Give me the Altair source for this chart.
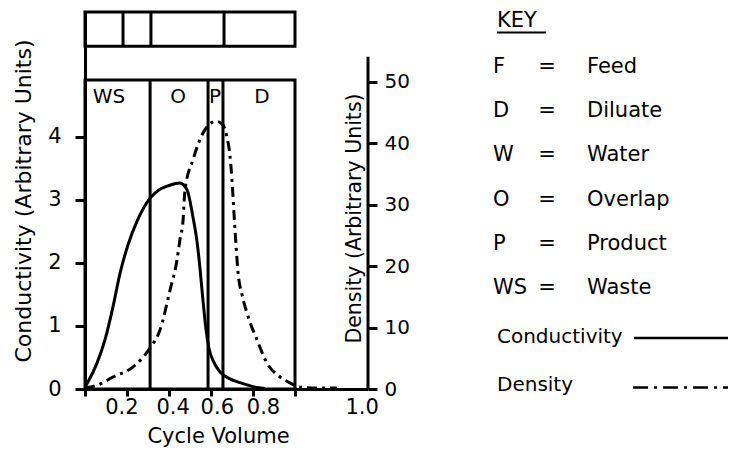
import altair as alt
import pandas as pd

FONT = "DejaVu Sans"

# ---- data ----
cv_cond = [0.0, 0.014, 0.057, 0.095, 0.133, 0.167, 0.205, 0.25, 0.31, 0.357, 0.40, 0.452,
           0.486, 0.514, 0.533, 0.548, 0.562, 0.576, 0.59, 0.61, 0.643, 0.69, 0.738, 0.81, 0.857]
conductivity = [0.03, 0.11, 0.41, 0.78, 1.30, 1.84, 2.29, 2.68, 3.03, 3.17, 3.23, 3.27,
                3.16, 2.73, 2.35, 1.90, 1.40, 0.95, 0.65, 0.45, 0.27, 0.16, 0.10, 0.03, 0.01]

cv_dens = [0.0, 0.071, 0.133, 0.229, 0.31, 0.357, 0.405, 0.438, 0.452, 0.467, 0.476, 0.514,
           0.562, 0.595, 0.624, 0.652, 0.676, 0.69, 0.70, 0.71, 0.719, 0.729, 0.748, 0.771,
           0.819, 0.867, 0.929, 0.976, 1.024, 1.119, 1.2]
density = [0.15, 0.8, 1.95, 3.6, 6.7, 9.6, 16.1, 21.0, 24.3, 27.5, 32.4, 37.3,
           41.7, 43.2, 43.6, 43.2, 41.0, 38.1, 34.0, 28.3, 23.5, 18.9, 15.3, 12.4,
           8.0, 4.2, 1.95, 1.0, 0.3, 0.15, 0.15]

region_labels = ["WS", "O", "P", "D"]
region_label_x = [0.114, 0.443, 0.619, 0.843]
region_bounds = [0.31, 0.586, 0.657]
top_dividers = [0.181, 0.314, 0.662]

x_tick_values = [0, 0.2, 0.4, 0.6, 0.8, 1.0]
x_tick_labels = ["0.2", "0.4", "0.6", "0.8", "1.0"]
x_tick_label_pos = [0.176, 0.42, 0.63, 0.85, 1.32]
cond_ticks = [0, 1, 2, 3, 4]
dens_ticks = [0, 10, 20, 30, 40, 50]

key_codes = ["F", "D", "W", "O", "P", "WS"]
key_names = ["Feed", "Diluate", "Water", "Overlap", "Product", "Waste"]
key_rows = [1, 2, 3, 4, 5, 6]
key_series = ["Conductivity", "Density"]
key_series_rows = [7.1, 8.2]

# ---- layout constants ----
X_MAX = 1.3476
COND_MAX = 5.984
DENS_MAX = 61.4
BOX_TOP = 4.905          # top of lower (region) box, conductivity units
TOPBOX_BOTTOM = 5.44     # bottom of upper box
RIGHT_AXIS_TOP = 54.1    # density units

xs = alt.Scale(domain=[0, X_MAX], nice=False, zero=False)
ycs = alt.Scale(domain=[0, COND_MAX], nice=False)
yds = alt.Scale(domain=[0, DENS_MAX], nice=False)

LW = 3
FS = 21

cond_df = pd.DataFrame({"cv": cv_cond, "c": conductivity})
dens_df = pd.DataFrame({"cv": cv_dens, "d": density})

# conductivity line, carrying the x and left y axis
cond_line = alt.Chart(cond_df).mark_line(
    color="black", strokeWidth=LW, interpolate="monotone"
).encode(
    x=alt.X("cv:Q", scale=xs, axis=alt.Axis(
        values=x_tick_values, labels=False, tickSize=7, title="Cycle Volume",
        titleFontSize=21, titleFont=FONT, titleFontWeight="normal", titleColor="black",
        titlePadding=28, titleX=133)),
    y=alt.Y("c:Q", scale=ycs, axis=alt.Axis(
        values=cond_ticks, tickSize=10, labelPadding=14, labelFontSize=FS,
        title="Conductivity (Arbitrary Units)", titleFontSize=22, titleFont=FONT,
        titleFontWeight="normal", titleColor="black", titlePadding=12)),
)

frame_df = pd.DataFrame({"x0": [0.0, 0.0], "x1": [1.0, 1.0],
                         "y0": [TOPBOX_BOTTOM, 0.0], "y1": [COND_MAX, BOX_TOP]})
frames = alt.Chart(frame_df).mark_rect(
    fillOpacity=0, stroke="black", strokeWidth=LW
).encode(
    x=alt.X("x0:Q", scale=xs, axis=None), x2="x1:Q",
    y=alt.Y("y0:Q", scale=ycs, axis=None), y2="y1:Q",
)

div_df = pd.DataFrame({"x": top_dividers, "y0": TOPBOX_BOTTOM, "y1": COND_MAX})
dividers = alt.Chart(div_df).mark_rule(color="black", strokeWidth=LW).encode(
    x=alt.X("x:Q", scale=xs, axis=None),
    y=alt.Y("y0:Q", scale=ycs, axis=None), y2="y1:Q",
)

bnd_df = pd.DataFrame({"x": region_bounds, "y0": 0.0, "y1": BOX_TOP})
bounds = alt.Chart(bnd_df).mark_rule(color="black", strokeWidth=LW).encode(
    x=alt.X("x:Q", scale=xs, axis=None),
    y=alt.Y("y0:Q", scale=ycs, axis=None), y2="y1:Q",
)

lab_df = pd.DataFrame({"x": region_label_x, "y": 4.63, "t": region_labels})
reg_labels = alt.Chart(lab_df).mark_text(
    font=FONT, fontSize=20, color="black", baseline="middle", align="center"
).encode(
    x=alt.X("x:Q", scale=xs, axis=None),
    y=alt.Y("y:Q", scale=ycs, axis=None), text="t:N",
)

xl_df = pd.DataFrame({"x": x_tick_label_pos, "y": -0.30, "t": x_tick_labels})
x_labels = alt.Chart(xl_df).mark_text(
    font=FONT, fontSize=FS, color="black", baseline="middle", align="center"
).encode(
    x=alt.X("x:Q", scale=xs, axis=None),
    y=alt.Y("y:Q", scale=ycs, axis=None), text="t:N",
)

dens_line = alt.Chart(dens_df).mark_line(
    color="black", strokeWidth=LW, strokeDash=[10, 5, 3, 5], interpolate="monotone"
).encode(
    x=alt.X("cv:Q", scale=xs, axis=None),
    y=alt.Y("d:Q", scale=yds, axis=alt.Axis(
        orient="right", values=dens_ticks, domain=False, tickSize=9, labelPadding=7,
        labelFontSize=20, title="Density (Arbitrary Units)", titleFontSize=20.5,
        titleFont=FONT, titleFontWeight="normal", titleColor="black",
        titleAngle=270, titleX=-8, titleY=206, titleAlign="center",
        titleBaseline="alphabetic")),
)

raxis_df = pd.DataFrame({"x": [X_MAX], "y0": [0.0], "y1": [RIGHT_AXIS_TOP]})
raxis = alt.Chart(raxis_df).mark_rule(color="black", strokeWidth=LW).encode(
    x=alt.X("x:Q", scale=xs, axis=None),
    y=alt.Y("y0:Q", scale=yds, axis=None), y2="y1:Q",
)

# ---- key ----
kxs = alt.Scale(domain=[0, 1], range=[408, 643], nice=False, zero=False)
kys = alt.Scale(domain=[0, 8.285], range=[10.8, 377], nice=False, zero=False)

key_rows_df = pd.DataFrame({"code": key_codes, "name": key_names, "row": key_rows, "eq": "="})
kcode = alt.Chart(key_rows_df).mark_text(
    font=FONT, fontSize=FS, color="black", align="left", baseline="middle"
).encode(x=alt.X("k0:Q", scale=kxs, axis=None), y=alt.Y("row:Q", scale=kys, axis=None),
         text="code:N").transform_calculate(k0="0")
keq = alt.Chart(key_rows_df).mark_text(
    font=FONT, fontSize=FS, color="black", align="center", baseline="middle"
).encode(x=alt.X("k1:Q", scale=kxs, axis=None), y=alt.Y("row:Q", scale=kys, axis=None),
         text="eq:N").transform_calculate(k1="0.23")
kname = alt.Chart(key_rows_df).mark_text(
    font=FONT, fontSize=FS, color="black", align="left", baseline="middle"
).encode(x=alt.X("k2:Q", scale=kxs, axis=None), y=alt.Y("row:Q", scale=kys, axis=None),
         text="name:N").transform_calculate(k2="0.40")

ktitle_df = pd.DataFrame({"t": ["KEY"], "x": [0.017], "y": [-0.04]})
ktitle = alt.Chart(ktitle_df).mark_text(
    font=FONT, fontSize=FS, color="black", align="left", baseline="middle"
).encode(x=alt.X("x:Q", scale=kxs, axis=None), y=alt.Y("y:Q", scale=kys, axis=None), text="t:N")

kul_df = pd.DataFrame({"x0": [0.017], "x1": [0.226], "y": [0.22]})
kul = alt.Chart(kul_df).mark_rule(color="black", strokeWidth=2).encode(
    x=alt.X("x0:Q", scale=kxs, axis=None), x2="x1:Q",
    y=alt.Y("y:Q", scale=kys, axis=None))

kser_df = pd.DataFrame({"t": key_series, "row": key_series_rows})
kser = alt.Chart(kser_df).mark_text(
    font=FONT, fontSize=20, color="black", align="left", baseline="middle"
).encode(x=alt.X("k:Q", scale=kxs, axis=None), y=alt.Y("row:Q", scale=kys, axis=None),
         text="t:N").transform_calculate(k="0.017")

kline_c = alt.Chart(pd.DataFrame({"x0": [0.60], "x1": [1.0], "y": [7.13]})).mark_rule(
    color="black", strokeWidth=2.5).encode(
    x=alt.X("x0:Q", scale=kxs, axis=None), x2="x1:Q", y=alt.Y("y:Q", scale=kys, axis=None))
kline_d = alt.Chart(pd.DataFrame({"x0": [0.596], "x1": [1.0], "y": [8.25]})).mark_rule(
    color="black", strokeWidth=2.5, strokeDash=[15, 6, 3, 6]).encode(
    x=alt.X("x0:Q", scale=kxs, axis=None), x2="x1:Q", y=alt.Y("y:Q", scale=kys, axis=None))

chart = alt.layer(
    frames, dividers, bounds, reg_labels, x_labels, cond_line, raxis, dens_line,
    ktitle, kul, kcode, keq, kname, kser, kline_c, kline_d,
).resolve_scale(x="independent", y="independent").resolve_axis(
    x="independent", y="independent"
).properties(
    width=283, height=377,
    autosize=alt.AutoSizeParams(type="none"),
    padding={"left": 77, "top": 4, "right": 360, "bottom": 60},
    background="white",
).configure_view(stroke=None).configure_axis(
    domainColor="black", domainWidth=LW, tickColor="black", tickWidth=LW,
    labelColor="black", labelFont=FONT, grid=False,
)

chart.save("out.html", embed_options={"renderer": "svg", "actions": False})
